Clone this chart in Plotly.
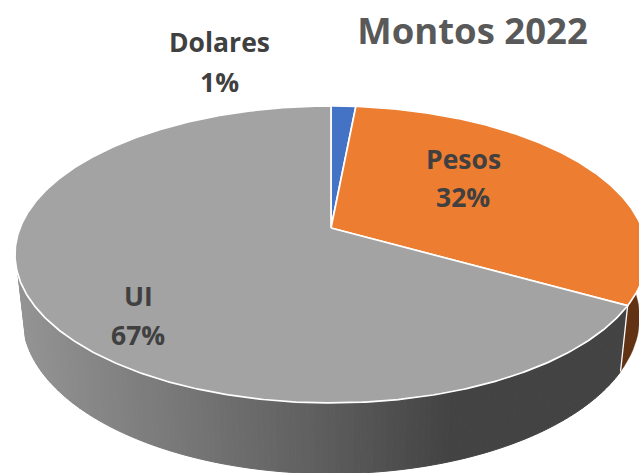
import numpy as np
import plotly.graph_objects as go

categories = ["Dolares", "Pesos", "UI"]
values = [1.5, 31.7, 66.8]
top_colors = ["#4472C4", "#ED7D31", "#A3A3A3"]
wall_colors = [None, "#613213", None]
title_text = "Montos 2022"

W, H = 639, 473
CX, CY = 331.0, 228.0
A, B, K = 311.0, 143.8, 0.178
SX, SY, DROP = 0.976, 1.05, 62.0
LEFT_LIMIT = 252.0


def top_pt(deg):
    t = np.radians(deg)
    u, v = np.sin(t), np.cos(t)
    w = 1 + K * v
    return CX + A * u / w, CY - B * v / w


def bottom_pt(deg):
    x, y = top_pt(deg)
    return CX + (x - CX) * SX, CY + (y - CY) * SY + DROP


def wall_grey(x):
    g = np.interp(x, [20, 320, 450, 640], [0x93, 0x5E, 0x43, 0x43])
    g = int(round(float(g)))
    return f"rgb({g},{g},{g})"


fractions = np.array(values) / sum(values)
edges = np.concatenate([[0], np.cumsum(fractions) * 360])

fig = go.Figure()


def poly(xs, ys, color, line=None, lw=0):
    fig.add_trace(go.Scatter(
        x=xs, y=ys, mode="lines", fill="toself", fillcolor=color,
        line=dict(color=line or color, width=lw), hoverinfo="skip", showlegend=False))


# side wall
pesos_end, ui_start = edges[2], edges[2]
d = np.arange(ui_start, LEFT_LIMIT, 1.0)
d = np.append(d, LEFT_LIMIT)
for a0, a1 in zip(d[:-1], d[1:]):
    x0, y0 = top_pt(a0); x1, y1 = top_pt(a1)
    x2, y2 = bottom_pt(a1); x3, y3 = bottom_pt(a0)
    c = wall_grey((x0 + x1) / 2)
    poly([x0, x1, x2, x3, x0], [y0, y1, y2, y3, y0], c, lw=1)

ang = np.linspace(edges[1], pesos_end, 60)
ang = ang[ang >= 90]
tx, ty = top_pt(ang)
bx, by = bottom_pt(ang)
poly(list(tx) + list(bx[::-1]) + [tx[0]], list(ty) + list(by[::-1]) + [ty[0]], wall_colors[1], lw=0.5)

# wall divider
ex, ey = top_pt(pesos_end)
fx, fy = bottom_pt(pesos_end)
fig.add_trace(go.Scatter(x=[ex, fx], y=[ey, fy], mode="lines",
                         line=dict(color="white", width=1.3), hoverinfo="skip", showlegend=False))

# top slices
for i, cat in enumerate(categories):
    n = max(4, int((edges[i + 1] - edges[i]) * 2))
    a = np.linspace(edges[i], edges[i + 1], n)
    x, y = top_pt(a)
    xs = [CX] + list(x) + [CX]
    ys = [CY] + list(y) + [CY]
    poly(xs, ys, top_colors[i], line="white", lw=1.7)
    fig.data[-1].name = cat

# labels
label_pos = {"Dolares": (219, 42, 82), "Pesos": (463, 159, 197), "UI": (138, 296, 335)}
annotations = []
for cat, f in zip(categories, fractions):
    lx, y1, y2 = label_pos[cat]
    for txt, yy in ((cat, y1), (f"{round(f * 100 - 0.1):.0f}%", y2)):
        annotations.append(dict(x=lx, y=yy, xref="x", yref="y", text=txt, showarrow=False,
                                font=dict(family="Open Sans", size=26.5, color="#404040", weight="bold")))

fig.update_layout(
    width=W, height=H, margin=dict(l=0, r=0, t=0, b=0),
    paper_bgcolor="white", plot_bgcolor="white", showlegend=False,
    xaxis=dict(range=[0, W], visible=False, fixedrange=True),
    yaxis=dict(range=[H, 0], visible=False, fixedrange=True),
    annotations=annotations,
    title=dict(text=title_text, x=472.5 / W, y=1 - 31 / H, xanchor="center", yanchor="middle",
               font=dict(family="Open Sans", size=36.5, color="#595959", weight="bold")),
)

fig.write_html("out.html", config={"displayModeBar": False}, post_script=(
    "document.body.style.margin='0';document.body.style.overflow='hidden';"))
